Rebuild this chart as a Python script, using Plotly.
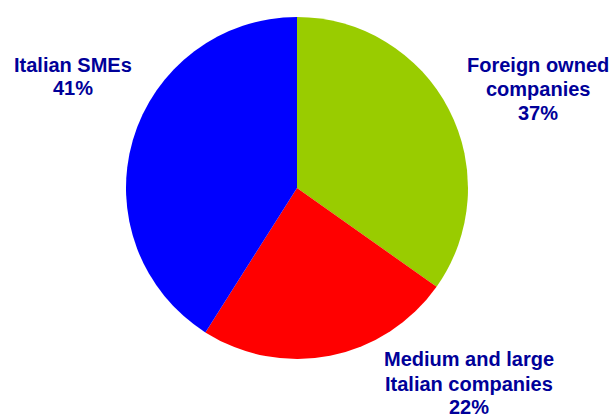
import plotly.graph_objects as go

# Data
categories = ["Foreign owned companies", "Medium and large Italian companies", "Italian SMEs"]
slice_values = [34.8, 24.2, 41.0]          # slice sizes as drawn
pct_labels = ["37%", "22%", "41%"]          # percentages as printed
label_lines = [["Foreign owned", "companies"],
               ["Medium and large", "Italian companies"],
               ["Italian SMEs"]]
colors = ["#99CC00", "#FF0000", "#0000FF"]

W, H = 615, 419
cx, cy, r = 297, 188, 171

fig = go.Figure(go.Pie(
    labels=categories, values=slice_values, sort=False,
    direction="clockwise", rotation=0,
    marker=dict(colors=colors, line=dict(width=0)),
    textinfo="none", hoverinfo="label+percent", showlegend=False,
    domain=dict(x=[(cx - r) / W, (cx + r) / W], y=[(H - (cy + r)) / H, (H - (cy - r)) / H]),
))

# label placement: (center x px, first baseline px, line step px)
label_pos = [(538, 72, 24), (469, 366, 25), (73, 72, 23)]
font = dict(family="Arial, Liberation Sans, sans-serif", size=20, color="#000099")
annotations = []
for lines, pct, (x, yb, step) in zip(label_lines, pct_labels, label_pos):
    allines = lines + [pct]
    for i, t in enumerate(allines):
        ybase = yb + i * step
        ypx = ybase - 7
        ann = dict(text="<b>%s</b>" % t, x=x / W, y=1 - ypx / H,
                   xref="paper", yref="paper", xanchor="center", yanchor="middle",
                   showarrow=False, font=font)
        if ypx + 12 > H:
            ann.update(y=0, yanchor="bottom", borderpad=0)
        annotations.append(ann)

fig.update_layout(
    width=W, height=H, margin=dict(l=0, r=0, t=0, b=0),
    paper_bgcolor="white", plot_bgcolor="white",
    annotations=annotations,
)
fig.write_html("out.html")
